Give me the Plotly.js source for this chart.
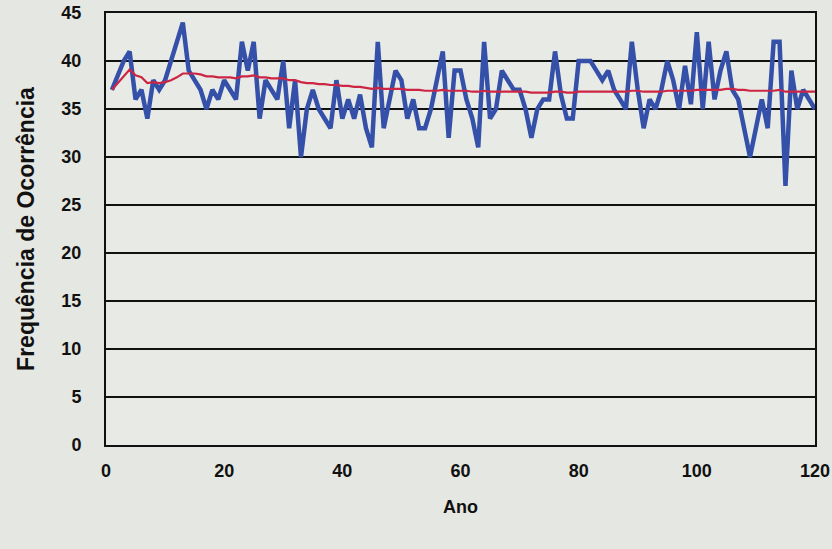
<!DOCTYPE html>
<html>
<head>
<meta charset="utf-8">
<script src="https://cdn.plot.ly/plotly-3.0.1.min.js"></script>
<style>
  html, body { margin: 0; padding: 0; background: #e5e7e2; }
  #chart { width: 832px; height: 549px; }
</style>
</head>
<body>
<div id="chart"></div>
<script>
// Year index (Ano)
const anos = [];
for (let i = 1; i <= 120; i++) anos.push(i);

// Annual occurrence frequency (blue series)
const frequencia = [
  37, 38.5, 40, 41, 36, 37, 34, 38, 37, 38,
  40, 42, 44, 39, 38, 37, 35, 37, 36, 38,
  37, 36, 42, 39, 42, 34, 38, 37, 36, 40,
  33, 38, 30, 35, 37, 35, 34, 33, 38, 34,
  36, 34, 36.5, 33, 31, 42, 33, 36, 39, 38,
  34, 36, 33, 33, 35, 38, 41, 32, 39, 39,
  36, 34, 31, 42, 34, 35, 39, 38, 37, 37,
  35, 32, 35, 36, 36, 41, 36.5, 34, 34, 40,
  40, 40, 39, 38, 39, 37, 36, 35, 42, 37,
  33, 36, 35, 37, 40, 38, 35, 39.5, 35.5, 43,
  35, 42, 36, 39, 41, 37, 36, 33, 30, 33,
  36, 33, 42, 42, 27, 39, 35, 37, 36, 35
];

// Running mean (red series)
const media = [
  37, 37.7, 38.5, 39.1, 38.5, 38.3, 37.7, 37.8, 37.7, 37.8,
  38, 38.3, 38.7, 38.7, 38.7, 38.6, 38.4, 38.4, 38.3, 38.3,
  38.3, 38.2, 38.4, 38.4, 38.5, 38.3, 38.3, 38.2, 38.2, 38.2,
  38, 38, 37.8, 37.7, 37.7, 37.6, 37.6, 37.5, 37.5, 37.4,
  37.4, 37.3, 37.3, 37.2, 37.1, 37.2, 37.1, 37.1, 37.1, 37.1,
  37.0, 37.0, 37.0, 36.9, 36.9, 36.9, 37.0, 36.9, 36.9, 36.9,
  36.9, 36.8, 36.8, 36.9, 36.8, 36.8, 36.8, 36.8, 36.8, 36.8,
  36.8, 36.7, 36.7, 36.7, 36.7, 36.8, 36.8, 36.7, 36.7, 36.8,
  36.8, 36.8, 36.8, 36.8, 36.8, 36.8, 36.8, 36.8, 36.9, 36.9,
  36.8, 36.8, 36.8, 36.8, 36.9, 36.9, 36.9, 36.9, 36.9, 37.0,
  37.0, 37.0, 37.0, 37.0, 37.1, 37.1, 37.0, 37.0, 36.9, 36.9,
  36.9, 36.9, 36.9, 37.0, 36.8, 36.8, 36.8, 36.8, 36.8, 36.8
];

const xTicks = [0, 20, 40, 60, 80, 100, 120];
const yTicks = [0, 5, 10, 15, 20, 25, 30, 35, 40, 45];

const sans = 'Liberation Sans, Arial, sans-serif';

const traces = [
  {
    x: anos, y: frequencia, type: 'scatter', mode: 'lines',
    line: { color: '#3550a8', width: 4.5 },
    hoverinfo: 'skip', showlegend: false
  },
  {
    x: anos, y: media, type: 'scatter', mode: 'lines',
    line: { color: '#cc2644', width: 2.2 },
    hoverinfo: 'skip', showlegend: false
  }
];

const layout = {
  width: 832, height: 549,
  margin: { l: 106, r: 17, t: 13, b: 104 },
  paper_bgcolor: '#e5e7e2',
  plot_bgcolor: '#e8eae5',
  showlegend: false,
  xaxis: {
    range: [0, 120],
    tickvals: xTicks,
    ticktext: xTicks.map(String),
    showgrid: false,
    zeroline: false,
    showline: true, mirror: true, linecolor: '#111', linewidth: 2,
    ticks: '',
    ticklabelstandoff: 8,
    ticklabeloverflow: 'allow',
    tickfont: { family: sans, size: 18, color: '#111', weight: 'bold' },
    title: { text: '<b>Ano</b>', font: { family: sans, size: 18, color: '#111' }, standoff: 21 }
  },
  yaxis: {
    range: [0, 45],
    tickvals: yTicks,
    ticktext: yTicks.map(String),
    showgrid: true, gridcolor: '#111', gridwidth: 2,
    zeroline: false,
    showline: true, mirror: true, linecolor: '#111', linewidth: 2,
    ticks: '',
    ticklabelstandoff: 19,
    tickfont: { family: sans, size: 18, color: '#111', weight: 'bold' },
    title: { text: '<b>Frequência de Ocorrência</b>', font: { family: sans, size: 23, color: '#111' }, standoff: 20 }
  }
};

Plotly.newPlot('chart', traces, layout, { displayModeBar: false, staticPlot: true });
</script>
</body>
</html>
